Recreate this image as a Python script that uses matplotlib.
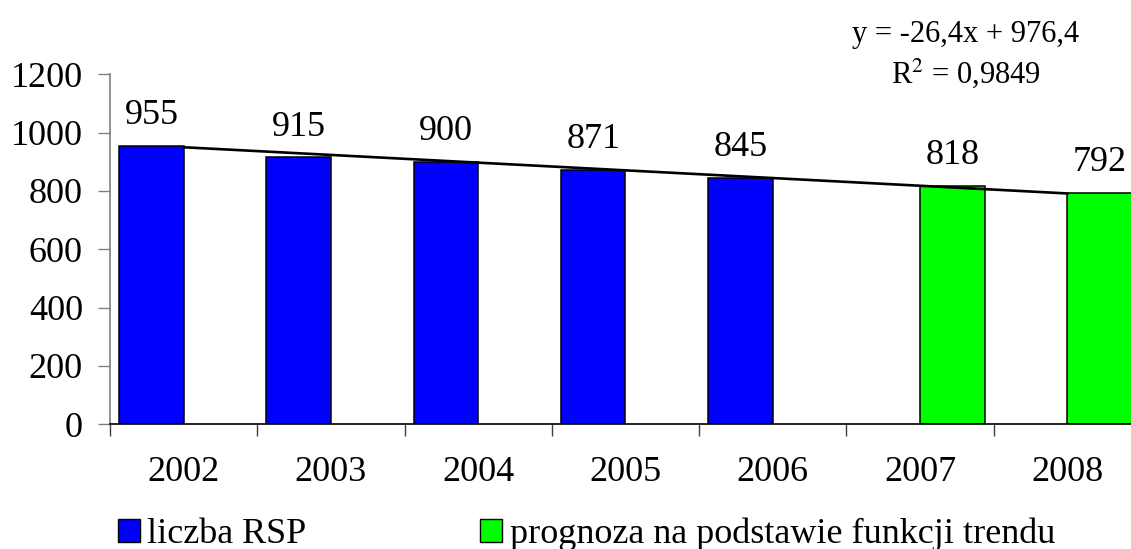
import matplotlib
matplotlib.use("Agg")
import matplotlib.pyplot as plt
import numpy as np
from matplotlib.patches import Rectangle

plt.rcParams.update({"font.family": "Liberation Serif",
                     "mathtext.fontset": "stix"})

# dane
years = ["2002", "2003", "2004", "2005", "2006", "2007", "2008"]
liczba_rsp = [955, 915, 900, 871, 845, np.nan, np.nan]
prognoza = [np.nan, np.nan, np.nan, np.nan, np.nan, 818, 792]
slope = -26.4
intercept = 976.4
r2 = "0,9849"

blue = "#0000FF"
green = "#00FF00"

fig = plt.figure(figsize=(11.31, 5.49), dpi=100)
ax = fig.add_axes([0.0973, 0.2271, 0.9115, 0.6375])

x = np.arange(len(years))
w = 0.438
ax.bar(x - w, liczba_rsp, width=w, align="edge", color=blue,
       edgecolor="black", linewidth=1.1, zorder=2)
ax.bar(x, prognoza, width=w, align="edge", color=green,
       edgecolor="black", linewidth=1.1, zorder=2)

# etykiety danych
for i, v in enumerate(liczba_rsp):
    if not np.isnan(v):
        ax.annotate(f"{v:.0f}", (x[i] - w / 2, v), xytext=(0, 10),
                    textcoords="offset points", ha="center", va="bottom",
                    fontsize=26)
for i, v in enumerate(prognoza):
    if not np.isnan(v):
        ax.annotate(f"{v:.0f}", (x[i] + w / 2, v), xytext=(0, 10),
                    textcoords="offset points", ha="center", va="bottom",
                    fontsize=26)

# linia trendu
trend = intercept + slope * (x + 1)
ax.plot(x, trend, color="black", linewidth=1.9, zorder=3)

# osie
ax.set_xlim(-0.5, len(years) - 0.5)
ax.set_ylim(0, 1200)
ax.set_yticks(np.arange(0, 1201, 200))
ax.set_xticks(np.arange(-0.5, len(years), 1.0))
ax.set_xticklabels([])
ax.set_xticks(x, minor=True)
ax.set_xticklabels(years, minor=True)
ax.tick_params(axis="x", which="major", length=8.5, width=1.0,
               color="#404040", direction="out")
ax.tick_params(axis="x", which="minor", length=0, pad=23, labelsize=26)
ax.tick_params(axis="y", length=8.5, width=1.0, color="#808080",
               direction="out", pad=11, labelsize=26)
for s in ["top", "right"]:
    ax.spines[s].set_visible(False)
ax.spines["left"].set_color("#808080")
ax.spines["left"].set_linewidth(1.2)
ax.spines["bottom"].set_color("black")
ax.spines["bottom"].set_linewidth(1.2)

# równanie trendu
fig.text(0.854, 0.937, "y = -26,4x + 976,4", ha="center", va="center",
         fontsize=22)
fig.text(0.854, 0.866, "R$^{2}$ = " + r2, ha="center", va="center",
         fontsize=22)

# legenda
handles = [Rectangle((0, 0), 1, 1, facecolor=blue, edgecolor="black"),
           Rectangle((0, 0), 1, 1, facecolor=green, edgecolor="black")]
fig.legend(handles, ["liczba RSP", "prognoza na podstawie funkcji trendu"],
           loc="lower left", bbox_to_anchor=(0.085, -0.043), ncol=2,
           frameon=False, fontsize=26, handlelength=0.62, handleheight=0.62,
           handletextpad=0.2, columnspacing=4.8, borderpad=0.1)

fig.savefig("out.png", dpi=100)
